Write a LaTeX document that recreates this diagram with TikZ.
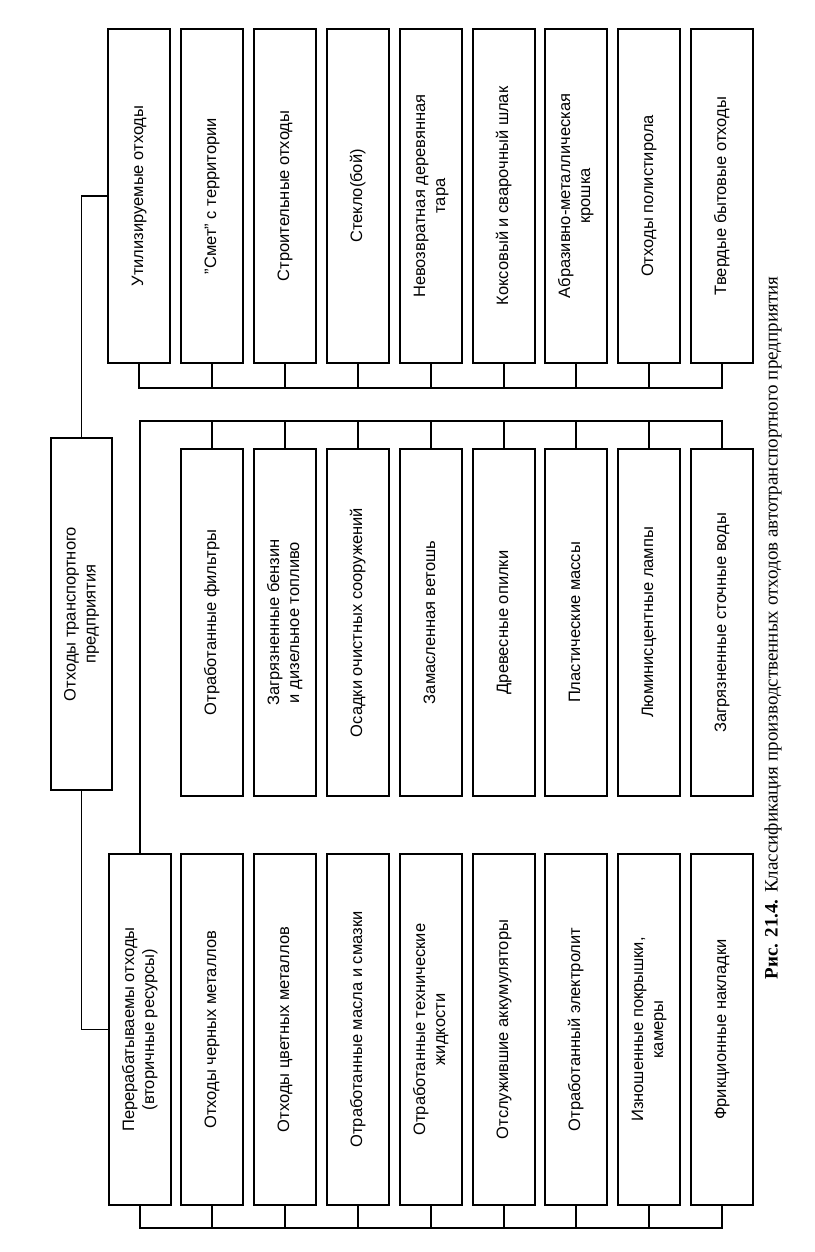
\documentclass[tikz,border=0pt]{standalone}
\usepackage{fontspec}
\setmainfont{Liberation Sans}
\newfontfamily\capfont{Liberation Serif}
\usepackage{graphicx}
\usetikzlibrary{positioning,calc}

\newcommand{\vtext}[1]{\rotatebox{90}{\begin{tabular}{@{}c@{}}#1\end{tabular}}}

\begin{document}
\begin{tikzpicture}[
    x=1pt, y=-1pt,
    wbox/.style={rectangle, draw, line width=1.5pt, minimum width=62pt, inner sep=0pt, font=\fontsize{16.5}{20}\selectfont},
    toprow/.style={wbox, minimum height=334pt},
    midrow/.style={wbox, minimum height=347pt},
    botrow/.style={wbox, minimum height=351pt},
    link/.style={line width=1.5pt},
]
\useasboundingbox (0,0) rectangle (814,1252);

% root
\node[wbox, minimum width=61pt, minimum height=352pt] (root) at (81.5, 614) {\vtext{Отходы транспортного\\предприятия}};

% utilised waste
\node[toprow] (u1) at (139, 196) {\vtext{Утилизируемые отходы}};
\node[toprow] (u2) at (212, 196) {\vtext{"Смет" с территории}};
\node[toprow] (u3) at (285, 196) {\vtext{Строительные отходы}};
\node[toprow] (u4) at (358, 196) {\vtext{Стекло(бой)}};
\node[toprow] (u5) at (431, 196) {\vtext{Невозвратная деревянная\\тара}};
\node[toprow] (u6) at (504, 196) {\vtext{Коксовый и сварочный шлак}};
\node[toprow] (u7) at (576, 196) {\vtext{Абразивно-металлическая\\крошка}};
\node[toprow] (u8) at (649, 196) {\vtext{Отходы полистирола}};
\node[toprow] (u9) at (722, 196) {\vtext{Твердые бытовые отходы}};

% recycled waste, second part
\node[midrow] (m2) at (212, 622.5) {\vtext{Отработанные фильтры}};
\node[midrow] (m3) at (285, 622.5) {\vtext{Загрязненные бензин\\и дизельное топливо}};
\node[midrow] (m4) at (358, 622.5) {\vtext{Осадки очистных сооружений}};
\node[midrow] (m5) at (431, 622.5) {\vtext{Замасленная ветошь}};
\node[midrow] (m6) at (504, 622.5) {\vtext{Древесные опилки}};
\node[midrow] (m7) at (576, 622.5) {\vtext{Пластические массы}};
\node[midrow] (m8) at (649, 622.5) {\vtext{Люминисцентные лампы}};
\node[midrow] (m9) at (722, 622.5) {\vtext{Загрязненные сточные воды}};

% recycled waste
\node[botrow] (p1) at (140, 1029.5) {\vtext{Перерабатываемы отходы\\(вторичные ресурсы)}};
\node[botrow] (p2) at (212, 1029.5) {\vtext{Отходы черных металлов}};
\node[botrow] (p3) at (285, 1029.5) {\vtext{Отходы цветных металлов}};
\node[botrow] (p4) at (358, 1029.5) {\vtext{Отработанные масла и смазки}};
\node[botrow] (p5) at (431, 1029.5) {\vtext{Отработанные технические\\жидкости}};
\node[botrow] (p6) at (504, 1029.5) {\vtext{Отслужившие аккумуляторы}};
\node[botrow] (p7) at (576, 1029.5) {\vtext{Отработанный электролит}};
\node[botrow] (p8) at (649, 1029.5) {\vtext{Изношенные покрышки,\\камеры}};
\node[botrow] (p9) at (722, 1029.5) {\vtext{Фрикционные накладки}};

% caption
\node[font=\capfont\fontsize{19}{22}\selectfont] (cap) at (773, 628) {\rotatebox{90}{\textbf{Рис. 21.4.} Классификация производственных отходов автотранспортного предприятия}};

% connectors
\coordinate (ubus) at (0, 388);
\coordinate (mbus) at (0, 421);
\coordinate (pbus) at (0, 1228);

\draw[link] (root.north) |- (u1.west);
\draw[link] (root.south) |- (p1.west);

\draw[link] (u1.south) -- (u1.south |- ubus) -- (u9.south |- ubus) -- (u9.south);
\draw[link] (u2.south) -- (u2.south |- ubus);
\draw[link] (u3.south) -- (u3.south |- ubus);
\draw[link] (u4.south) -- (u4.south |- ubus);
\draw[link] (u5.south) -- (u5.south |- ubus);
\draw[link] (u6.south) -- (u6.south |- ubus);
\draw[link] (u7.south) -- (u7.south |- ubus);
\draw[link] (u8.south) -- (u8.south |- ubus);

\draw[link] (p1.north) -- (p1.north |- mbus) -- (m9.north |- mbus) -- (m9.north);
\draw[link] (m2.north) -- (m2.north |- mbus);
\draw[link] (m3.north) -- (m3.north |- mbus);
\draw[link] (m4.north) -- (m4.north |- mbus);
\draw[link] (m5.north) -- (m5.north |- mbus);
\draw[link] (m6.north) -- (m6.north |- mbus);
\draw[link] (m7.north) -- (m7.north |- mbus);
\draw[link] (m8.north) -- (m8.north |- mbus);

\draw[link] (p1.south) -- (p1.south |- pbus) -- (p9.south |- pbus) -- (p9.south);
\draw[link] (p2.south) -- (p2.south |- pbus);
\draw[link] (p3.south) -- (p3.south |- pbus);
\draw[link] (p4.south) -- (p4.south |- pbus);
\draw[link] (p5.south) -- (p5.south |- pbus);
\draw[link] (p6.south) -- (p6.south |- pbus);
\draw[link] (p7.south) -- (p7.south |- pbus);
\draw[link] (p8.south) -- (p8.south |- pbus);

\end{tikzpicture}
\end{document}
